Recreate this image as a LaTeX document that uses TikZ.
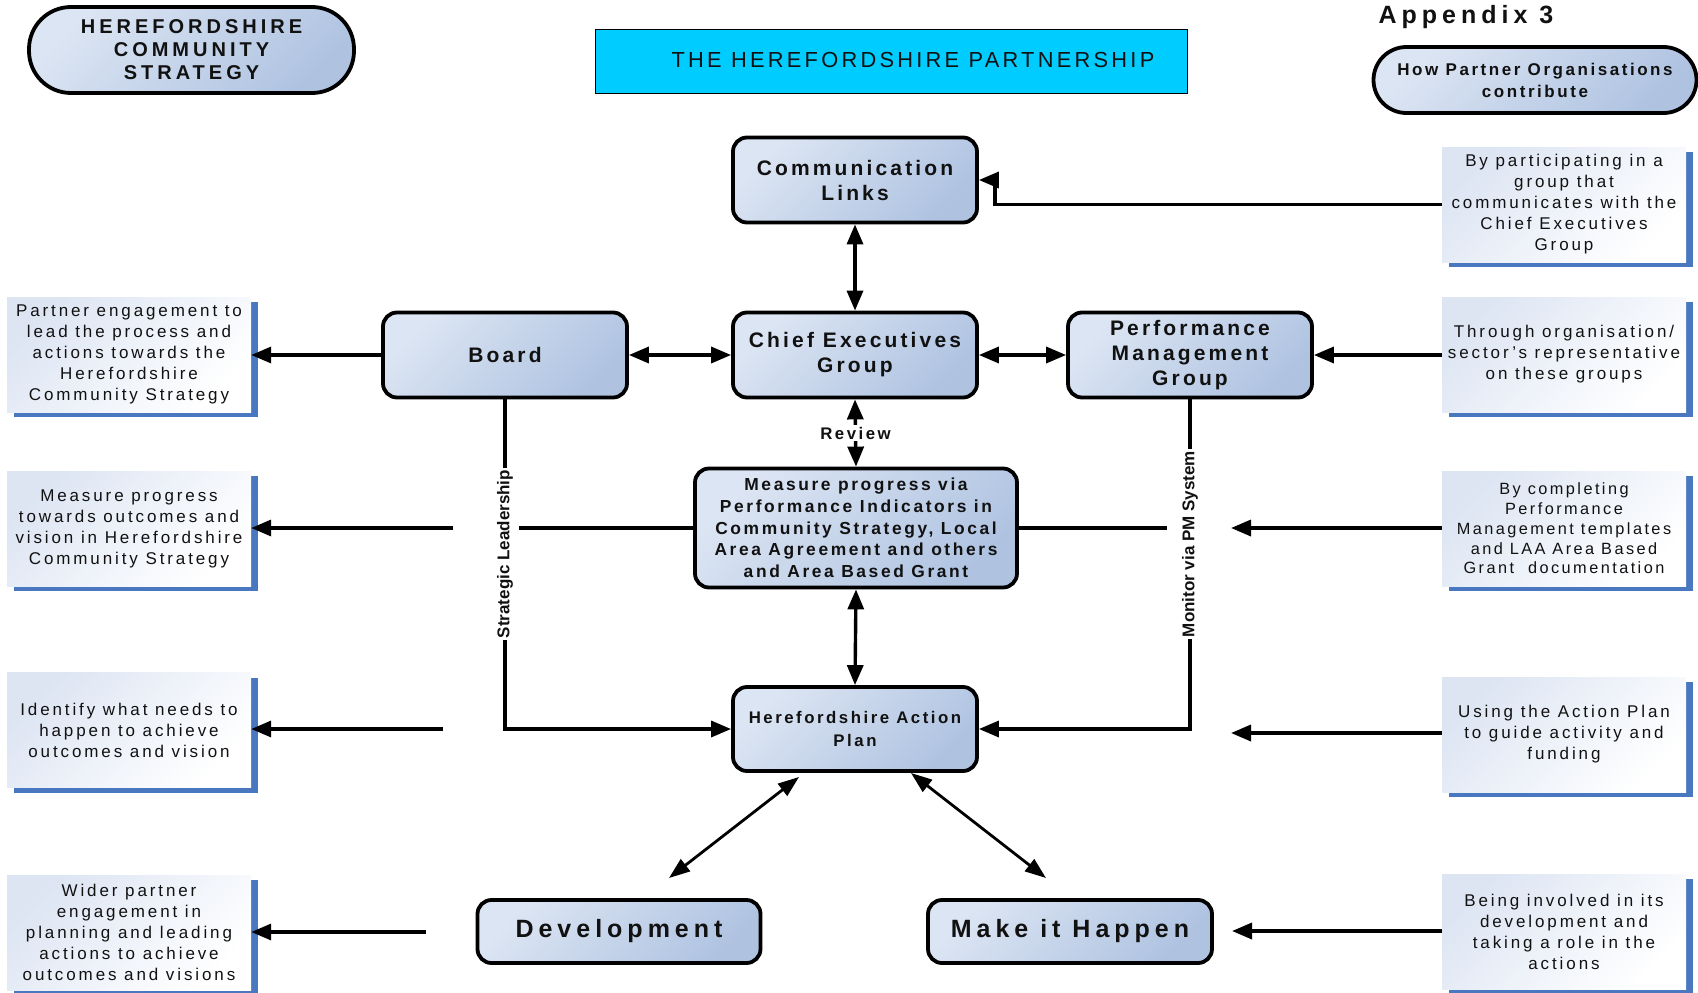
\documentclass[tikz,border=0pt]{standalone}
\usepackage{fontspec}
\setmainfont{Liberation Sans}
\newfontfamily\fsp[LetterSpace=15]{Liberation Sans}
\newfontfamily\fspb[LetterSpace=17]{Liberation Sans}
\newfontfamily\fspw[LetterSpace=20]{Liberation Sans}
\usetikzlibrary{arrows.meta,shadows}
\definecolor{boxA}{HTML}{DCE5F3}
\definecolor{boxB}{HTML}{AFC3E1}
\definecolor{sideA}{HTML}{DDE5F3}
\definecolor{sideblue}{HTML}{4A78C0}
\definecolor{titlecyan}{HTML}{00CCFF}
\definecolor{ink}{HTML}{111111}
\begin{document}
\begin{tikzpicture}[x=1pt,y=-1pt,
  mainbox/.style={draw=black, line width=3.8pt, rounded corners=14pt, top color=boxA, bottom color=boxB, shading angle=45, inner sep=0pt, align=center, minimum width=244pt, minimum height=85pt, text=ink, font=\fsp\bfseries\fontsize{21}{25}\selectfont},
  pillbox/.style={draw=black, line width=3.8pt, top color=boxA, bottom color=boxB, shading angle=45, inner sep=0pt, align=center, text=ink},
  sidebox/.style={top color=sideA, bottom color=white, shading angle=45, minimum width=244pt, minimum height=115pt, inner sep=0pt, align=center, text=ink, font=\fspb\fontsize{17}{21}\selectfont, drop shadow={shadow xshift=7pt, shadow yshift=-5pt, fill=sideblue, opacity=1}},
  titlebox/.style={draw=black, line width=1pt, fill=titlecyan, minimum width=592pt, minimum height=64pt, inner sep=0pt, text=ink, font=\fsp\fontsize{21.8}{25}\selectfont},
  arr/.style={line width=3.4pt, -{Triangle[length=20pt,width=16pt]}},
  darr/.style={line width=3.4pt, {Triangle[length=20pt,width=16pt]}-{Triangle[length=20pt,width=16pt]}},
  plainline/.style={line width=3.4pt},
  diag/.style={line width=2.8pt, {Triangle[length=21pt,width=15pt]}-{Triangle[length=21pt,width=15pt]}},
  lbl/.style={fill=white, inner sep=2pt, text=ink, font=\bfseries\fontsize{17}{20}\selectfont},
  revlbl/.style={fill=white, inner sep=2pt, text=ink, font=\fsp\bfseries\fontsize{16.8}{20}\selectfont}
]
\useasboundingbox (0,0) rectangle (1698,993);
\fill[white] (0,0) rectangle (1698,993);

% header
\node[pillbox, minimum width=325pt, minimum height=86pt, rounded corners=42pt, font=\fspw\bfseries\fontsize{20}{23}\selectfont] (hcs) at (191.5,50) {HEREFORDSHIRE\\COMMUNITY\\STRATEGY};
\node[titlebox] (title) at (891,61) {\raisebox{2pt}{\hspace*{44pt}THE HEREFORDSHIRE PARTNERSHIP}};
\node[inner sep=0pt, text=ink, font=\fspw\bfseries\fontsize{25}{30}\selectfont] (app) at (1466,17) {Appendix 3};
\node[pillbox, minimum width=323pt, minimum height=66pt, rounded corners=33pt, font=\fsp\bfseries\fontsize{17}{22}\selectfont] (how) at (1535,80) {How Partner Organisations\\contribute};

% side boxes left
\node[sidebox] (L1) at (129,354.5) {Partner engagement to\\lead the process and\\actions towards the\\Herefordshire\\Community Strategy};
\node[sidebox] (L2) at (129,528.5) {Measure progress\\towards outcomes and\\vision in Herefordshire\\Community Strategy};
\node[sidebox] (L3) at (129,730) {Identify what needs to\\happen to achieve\\outcomes and vision};
\node[sidebox] (L4) at (129,932.5) {Wider partner\\engagement in\\planning and leading\\actions to achieve\\outcomes and visions};

% side boxes right
\node[sidebox] (R1) at (1564,204.5) {By participating in a\\group that\\communicates with the\\Chief Executives\\Group};
\node[sidebox] (R2) at (1564,354.5) {Through organisation/\\sector’s representative\\on these groups};
\node[sidebox, font=\fsp\fontsize{16.3}{19.75}\selectfont] (R3) at (1564,528.5) {By completing\\Performance\\Management templates\\and LAA Area Based\\Grant\ \ documentation};
\node[sidebox] (R4) at (1564,734.5) {Using the Action Plan\\to guide activity and\\funding};
\node[sidebox] (R5) at (1564,931.5) {Being involved in its\\development and\\taking a role in the\\actions};

% main boxes
\node[mainbox] (comm) at (855,180) {Communication\\Links};
\node[mainbox] (ceo) at (855,355) {Chief Executives\\Group};
\node[mainbox] (board) at (505,355) {Board};
\node[mainbox] (pm) at (1190,355) {Performance\\Management\\Group};
\node[mainbox, minimum width=322pt, minimum height=119pt, font=\fsp\bfseries\fontsize{17.4}{21.7}\selectfont] (measure) at (856,528) {Measure progress via\\Performance Indicators in\\Community Strategy, Local\\Area Agreement and others\\and Area Based Grant};
\node[mainbox, minimum height=84pt, font=\fsp\bfseries\fontsize{16.8}{23}\selectfont] (ap) at (855,729) {Herefordshire Action\\Plan};
\node[mainbox, minimum width=283pt, minimum height=63pt, font=\fspw\bfseries\fontsize{25}{30}\selectfont] (dev) at (619,931.5) {Development};
\node[mainbox, minimum width=284pt, minimum height=63pt, font=\fspw\bfseries\fontsize{25}{30}\selectfont] (mih) at (1070,931.5) {Make it Happen};

% coordinates for free ends
\coordinate (cbend) at (995,180);
\coordinate (gL) at (453,528);
\coordinate (gR) at (519,528);
\coordinate (mR) at (1167,528);
\coordinate (tR3) at (1231,528);
\coordinate (sL3) at (443,729);
\coordinate (tR4) at (1231,733);
\coordinate (sL4) at (426,932);
\coordinate (tR5) at (1232,931);
\coordinate (d1a) at (799,777);
\coordinate (d1b) at (669,878);
\coordinate (d2a) at (911,773);
\coordinate (d2b) at (1046,878);

% connectors
\draw[arr] (R1.west) -| (cbend) -- (comm.east);
\draw[darr] (comm.south) -- (ceo.north);
\draw[darr] (board.east) -- (ceo.west);
\draw[darr] (ceo.east) -- (pm.west);
\draw[arr] (board.west) -- (board.west -| L1.east);
\draw[arr] (R2.west |- pm.east) -- (pm.east);
\draw[darr] (ceo.south) -- (measure.north) node[midway, revlbl] (rev) {Review};
\draw[darr] (measure.south) -- (ap.north);
\draw[arr] (board.south) |- (ap.west);
\draw[arr] (pm.south) |- (ap.east);
\draw[plainline] (measure.west) -- (gR);
\draw[arr] (gL) -- (gL -| L2.east);
\draw[plainline] (measure.east) -- (mR);
\draw[arr] (R3.west |- tR3) -- (tR3);
\draw[arr] (sL3) -- (sL3 -| L3.east);
\draw[arr] (R4.west |- tR4) -- (tR4);
\draw[arr] (sL4) -- (sL4 -| L4.east);
\draw[arr] (R5.west |- tR5) -- (tR5);
\draw[diag] (d1a) -- (d1b);
\draw[diag] (d2a) -- (d2b);

% labels on lines
\node[lbl, rotate=90] (sl) at (505,554) {Strategic Leadership};
\node[lbl, rotate=90] (mon) at (1190,544) {Monitor via PM System};
\end{tikzpicture}
\end{document}
